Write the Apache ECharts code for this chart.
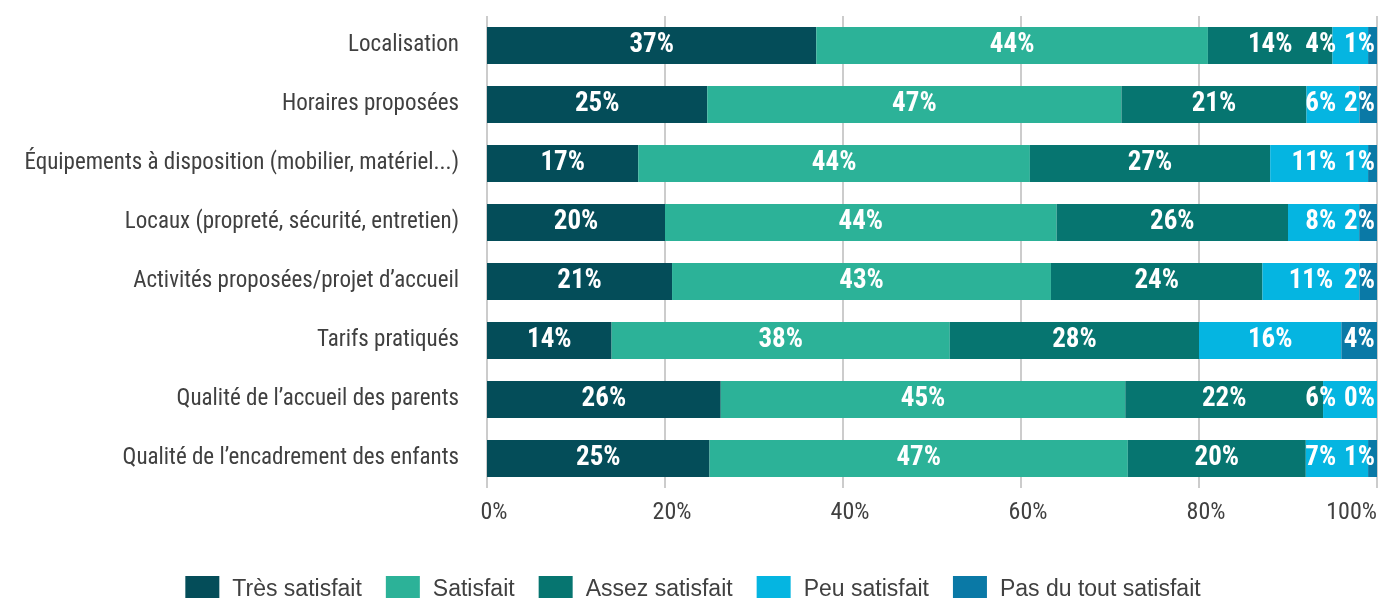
<!DOCTYPE html>
<html>
<head>
<meta charset="utf-8">
<script src="https://cdn.jsdelivr.net/npm/echarts@6/dist/echarts.min.js"></script>
<style>
  html, body { margin: 0; padding: 0; background: #fff; }
  #chart { width: 1386px; height: 598px; }
</style>
</head>
<body>
<div id="chart"></div>
<script>
// Satisfaction survey: share of answers per item (percent, as printed on the bars)
const categories = [
  'Localisation',
  'Horaires proposées',
  'Équipements à disposition (mobilier, matériel...)',
  'Locaux (propreté, sécurité, entretien)',
  'Activités proposées/projet d’accueil',
  'Tarifs pratiqués',
  'Qualité de l’accueil des parents',
  'Qualité de l’encadrement des enfants'
];
const tresSatisfait   = [37, 25, 17, 20, 21, 14, 26, 25];
const satisfait       = [44, 47, 44, 44, 43, 38, 45, 47];
const assezSatisfait  = [14, 21, 27, 26, 24, 28, 22, 20];
const peuSatisfait    = [4, 6, 11, 8, 11, 16, 6, 7];
const pasDuTout       = [1, 2, 1, 2, 2, 4, 0, 1];
const xTicks = [0, 20, 40, 60, 80, 100];

const seriesDefs = [
  { name: 'Très satisfait', values: tresSatisfait, color: '#044d59' },
  { name: 'Satisfait', values: satisfait, color: '#2cb298' },
  { name: 'Assez satisfait', values: assezSatisfait, color: '#067570' },
  { name: 'Peu satisfait', values: peuSatisfait, color: '#05b5e1' },
  { name: 'Pas du tout satisfait', values: pasDuTout, color: '#0a79a6' }
];

// Each row is drawn as a 100% stack: a segment's length is its answer share of the row total
const rowTotals = categories.map((_, i) =>
  seriesDefs.reduce((s, d) => s + d.values[i], 0));
const shares = seriesDefs.map(d => d.values.map((v, i) => v / rowTotals[i] * 100));

const narrow = '"Liberation Sans Narrow", "Arial Narrow", "Roboto Condensed", "Liberation Sans", sans-serif';
const labelFontSize = 27;
const labelFont = 'bold ' + labelFontSize + 'px ' + narrow;

// Width of a value label, used to keep the two small end labels apart
const measureCtx = document.createElement('canvas').getContext('2d');
function labelWidth(text) {
  measureCtx.font = labelFont;
  return measureCtx.measureText(text).width;
}
const LABEL_GAP = 8;     // minimum space between neighbouring end labels
const EDGE_PAD = 2;      // space kept between the last label and the bar end

// Left edge of the last segment's label once it is pulled inside the bar end
function lastLabelLeft(i, barEnd, pxPerUnit) {
  const w = labelWidth(pasDuTout[i] + '%');
  const segW = shares[4][i] * pxPerUnit;
  const centre = barEnd - segW / 2;
  return Math.min(centre + w / 2, barEnd - EDGE_PAD) - w;
}

function endLabelLayout(params) {
  const s = params.seriesIndex, i = params.dataIndex;
  const lr = params.labelRect, r = params.rect;
  const right = lr.x + lr.width;
  if (s === 4) {
    const limit = r.x + r.width - EDGE_PAD;
    return right > limit ? { dx: limit - right } : {};
  }
  if (s === 3 && shares[3][i] > 0) {
    const pxPerUnit = r.width / shares[3][i];
    const barEnd = r.x + r.width + shares[4][i] * pxPerUnit;
    const limit = lastLabelLeft(i, barEnd, pxPerUnit) - LABEL_GAP;
    return right > limit ? { dx: limit - right } : {};
  }
  return {};
}

const chart = echarts.init(document.getElementById('chart'), null, { renderer: 'canvas' });
chart.setOption({
  animation: false,
  grid: { left: 487, right: 9, top: 16, bottom: 110, containLabel: false, outerBoundsMode: 'none' },
  legend: {
    top: 571,
    left: 'center',
    itemWidth: 34,
    itemHeight: 27,
    itemGap: 24,
    icon: 'rect',
    textStyle: {
      fontFamily: '"Liberation Sans", Arial, sans-serif', fontSize: 23, color: '#404040',
      padding: [0, 0, 0, 8]
    },
    data: seriesDefs.map(d => d.name)
  },
  xAxis: {
    type: 'value',
    min: 0,
    max: 100,
    interval: 20,
    axisLine: { show: false },
    axisTick: { show: false },
    splitLine: { show: true, lineStyle: { color: '#cccccc', width: 2 } },
    axisLabel: {
      fontFamily: narrow, fontSize: 24, color: '#404040', margin: 13,
      padding: [0, 0, 0, 14],
      alignMaxLabel: 'right',
      formatter: v => (xTicks.includes(v) ? v + '%' : '')
    }
  },
  yAxis: {
    type: 'category',
    inverse: true,
    data: categories,
    axisLine: { show: false },
    axisTick: { show: false },
    axisLabel: { fontFamily: narrow, fontSize: 23, color: '#404040', margin: 28 }
  },
  series: seriesDefs.map((d, k) => ({
    name: d.name,
    type: 'bar',
    stack: 'total',
    barWidth: 37,
    itemStyle: { color: d.color },
    emphasis: { disabled: true },
    label: {
      show: true,
      position: 'inside',
      color: '#ffffff',
      fontFamily: narrow,
      fontWeight: 'bold',
      fontSize: labelFontSize,
      formatter: p => d.values[p.dataIndex] + '%'
    },
    labelLayout: endLabelLayout,
    data: shares[k]
  }))
});
</script>
</body>
</html>
